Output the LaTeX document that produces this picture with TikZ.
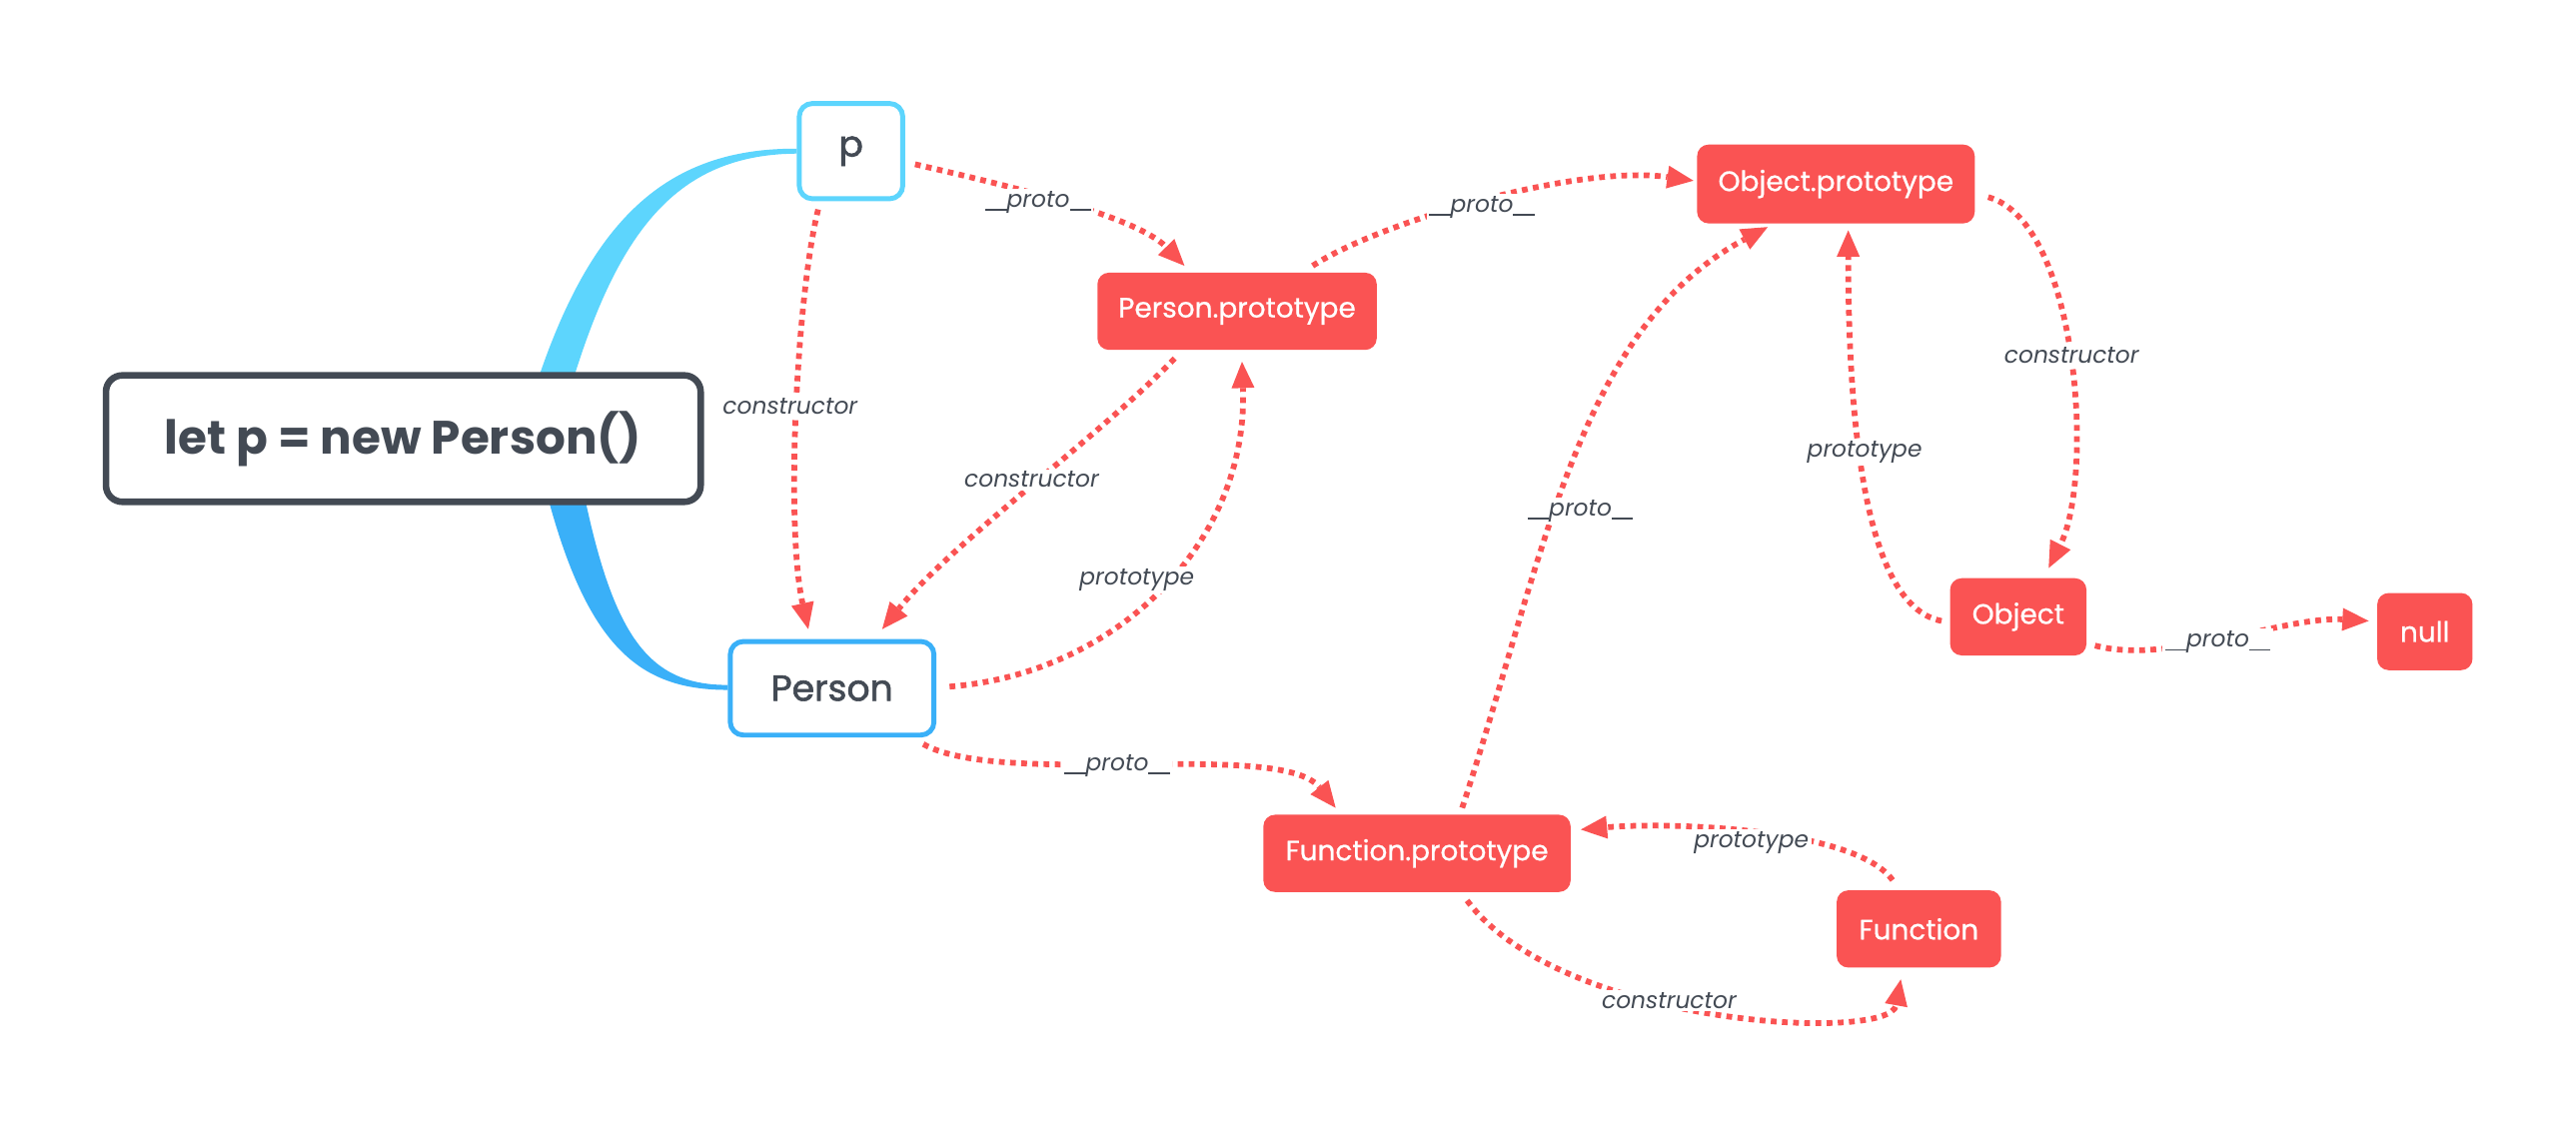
\documentclass[tikz,border=0pt]{standalone}
\usepackage{fontspec}
\setmainfont{Poppins}
\newfontfamily\medfont[FakeBold=0.7]{Poppins}
\newfontfamily\semifont[FakeBold=1.6]{Poppins}
\usetikzlibrary{arrows.meta,calc}
\definecolor{rd}{HTML}{FA5353}
\definecolor{dk}{HTML}{434A54}
\definecolor{cy}{HTML}{5DD5FD}
\definecolor{bl}{HTML}{3AB0F8}
\newcommand\uu{\rule[-2.2pt]{13pt}{1.1pt}}
\begin{document}
\begin{tikzpicture}[x=1pt,y=-1pt,
  rnode/.style={rectangle,rounded corners=7pt,fill=rd,text=white,inner sep=0pt,minimum height=47pt,font=\medfont\fontsize{17}{18}\selectfont},
  bnode/.style={rectangle,rounded corners=8pt,fill=white,text=dk,line width=3pt,inner sep=0pt,font=\semifont\fontsize{22}{24}\selectfont},
  lab/.style={font=\itshape\fontsize{14.2}{15}\selectfont,text=dk,fill=white,inner sep=1.5pt},
  link/.style={draw=rd,line width=3.5pt,dash pattern=on 3.5pt off 3.3pt,-{Triangle[length=16pt,width=14pt,line width=0pt]}}]
\fill[white] (0,0) rectangle (1568,687);
\useasboundingbox (0,0) rectangle (1568,687);
% blue branches
\fill[cy] (485,90.5) .. controls (400,90) and (352,140) .. (318,262) -- (340,262) .. controls (370,150) and (405,94) .. (485,93.5) -- cycle;
\fill[bl] (326,272) .. controls (352,390) and (385,420) .. (443,420) -- (443,417) .. controls (392,417) and (370,385) .. (350,272) -- cycle;
% nodes
\node[draw=dk,line width=4pt,rounded corners=10pt,fill=white,minimum width=362pt,minimum height=77pt,inner sep=0pt,text=dk,font=\bfseries\fontsize{28.5}{30}\selectfont] (title) at (245.5,267) {let p = new Person()};
\node[bnode,draw=cy,minimum width=63pt,minimum height=58pt] (p) at (518,92) {p};
\node[bnode,draw=bl,minimum width=124pt,minimum height=57pt] (person) at (506.5,419) {Person};
\node[rnode,minimum width=170pt] (pp) at (753,189.5) {Person.prototype};
\node[rnode,minimum width=169pt,minimum height=48pt] (op) at (1117.5,112) {Object.prototype};
\node[rnode,minimum width=187pt] (fp) at (862.5,519.5) {Function.prototype};
\node[rnode,minimum width=100pt] (fn) at (1168,565.5) {Function};
\node[rnode,minimum width=83pt] (ob) at (1228.5,375.5) {Object};
\node[rnode,minimum width=58pt] (nl) at (1476,384.5) {null};
% connectors
\draw[link] ($(p.east)+(6,8)$) .. controls (600,110) and (690,130) .. ($(pp.north)+(-32,-4)$);
\draw[link] ($(p.south)+(-20,5)$) .. controls (485,180) and (478,320) .. ($(person.north)+(-14.5,-6)$);
\draw[link] ($(pp.north)+(46,-4)$) .. controls (840,135) and (960,100) .. ($(op.west)+(-2,-2)$);
\draw[link] ($(pp.south)+(-38,5)$) .. controls (670,265) and (580,330) .. ($(person.north)+(30.5,-6)$);
\draw[link] ($(person.east)+(8,-1)$) .. controls (680,410) and (760,330) .. ($(pp.south)+(3,7)$);
\draw[link] ($(person.south east)+(-8,4)$) .. controls (610,480) and (780,450) .. ($(fp.north)+(-49.5,-4)$);
\draw[link] ($(fp.north)+(27.5,-4)$) .. controls (940,340) and (960,200) .. ($(op.south)+(-41.5,2)$);
\draw[link] ($(op.east)+(8,8)$) .. controls (1265,135) and (1275,290) .. ($(ob.north)+(18.5,-6)$);
\draw[link] ($(ob.west)+(-5,2.5)$) .. controls (1140,370) and (1125,280) .. ($(op.south)+(7.5,4)$);
\draw[link] ($(ob.east)+(5,17.5)$) .. controls (1320,405) and (1390,375) .. ($(nl.west)+(-5,-6.5)$);
\draw[link] ($(fn.north)+(-16,-6)$) .. controls (1130,505) and (1020,500) .. ($(fp.east)+(6,-14.5)$);
\draw[link] ($(fp.south)+(30.5,5)$) .. controls (950,625) and (1150,635) .. ($(fn.south)+(-11,7)$);
% labels
\node[lab] (l1) at (632,123) {\uu proto\uu};
\node[lab] (l2) at (481,247) {constructor};
\node[lab] (l3) at (902,126) {\uu proto\uu};
\node[lab] (l4) at (628,292) {constructor};
\node[lab] (l5) at (692,353) {prototype};
\node[lab] (l6) at (680,466) {\uu proto\uu};
\node[lab] (l7) at (962,311) {\uu proto\uu};
\node[lab] (l8) at (1261,216) {constructor};
\node[lab] (l9) at (1135,275) {prototype};
\node[lab] (l10) at (1350,391) {\uu proto\uu};
\node[lab] (l11) at (1066,513) {prototype};
\node[lab] (l12) at (1016,609) {constructor};
\end{tikzpicture}
\end{document}
